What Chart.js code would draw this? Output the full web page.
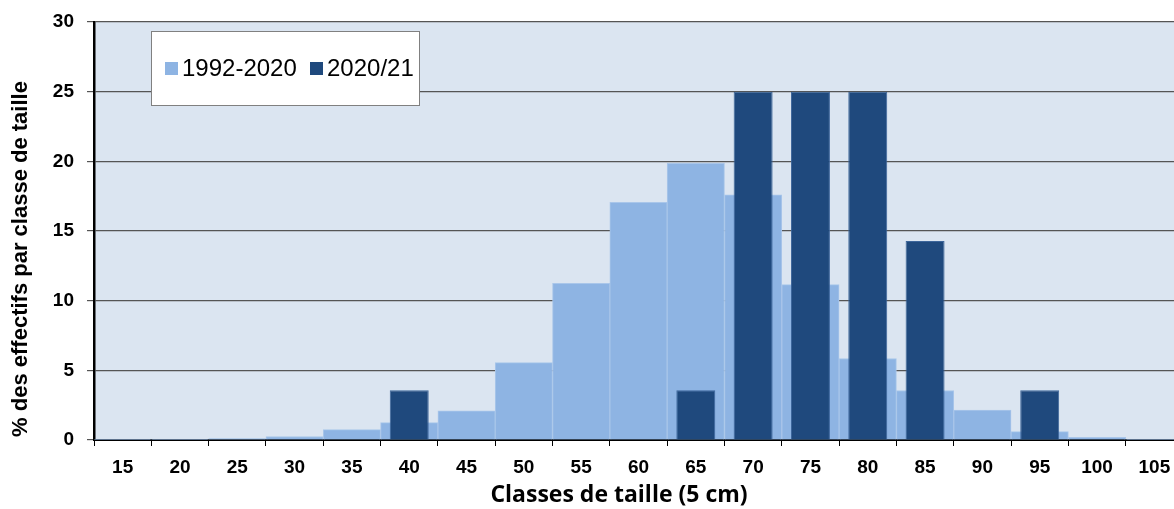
<!DOCTYPE html>
<html>
<head>
<meta charset="utf-8">
<script src="https://cdn.jsdelivr.net/npm/chart.js@4/dist/chart.umd.min.js"></script>
<style>
  html, body { margin: 0; padding: 0; background: #fff; overflow: hidden; }
  #wrap { width: 1183px; height: 509px; position: relative; }
</style>
</head>
<body>
<div id="wrap"><canvas id="tailleChart"></canvas></div>
<script>
// classes de taille (5 cm)
const classes = ['15', '20', '25', '30', '35', '40', '45', '50', '55', '60', '65', '70', '75', '80', '85', '90', '95', '100', '105'];
// % des effectifs, moyenne 1992-2020
const serie1992 = [0.05, 0.05, 0.1, 0.25, 0.75, 1.25, 2.1, 5.55, 11.25, 17.05, 19.85, 17.6, 11.15, 5.85, 3.55, 2.15, 0.6, 0.2, 0.05];
// % des effectifs, saison 2020/21
const serie2020 = [null, null, null, null, null, 3.57, null, null, null, null, 3.57, 25, 25, 25, 14.29, null, 3.57, null, null];
const yTicks = [0, 5, 10, 15, 20, 25, 30];

const colLight = '#8eb4e3';
const colDark = '#1f497d';

const plotBg = {
    id: 'plotBg',
    beforeDraw(chart) {
        const { ctx, chartArea: a } = chart;
        ctx.save();
        ctx.fillStyle = '#dbe5f1';
        ctx.fillRect(a.left, a.top, a.right - a.left, a.bottom - a.top);
        ctx.restore();
    }
};

// legend box inside the plot + axis titles
const boxLegend = {
    id: 'boxLegend',
    afterDraw(chart) {
        const ctx = chart.ctx;
        ctx.save();
        ctx.fillStyle = '#fff';
        ctx.fillRect(151, 31, 268, 74);
        ctx.strokeStyle = '#808080';
        ctx.lineWidth = 1;
        ctx.strokeRect(151.5, 31.5, 268, 74);
        ctx.font = '24px "Liberation Sans", Arial, sans-serif';
        ctx.textBaseline = 'middle';
        ctx.fillStyle = colLight;
        ctx.fillRect(165, 62, 13, 13);
        ctx.fillStyle = colDark;
        ctx.fillRect(310, 62, 13, 13);
        ctx.fillStyle = '#000';
        ctx.fillText('1992-2020', 182, 69);
        ctx.fillText('2020/21', 327, 69);

        ctx.textAlign = 'center';
        ctx.font = 'bold 23px "Open Sans", sans-serif';
        ctx.fillText('Classes de taille (5 cm)', 619, 495);

        ctx.translate(21, 259);
        ctx.rotate(-Math.PI / 2);
        ctx.font = 'bold 22px "Liberation Sans", Arial, sans-serif';
        ctx.fillText('% des effectifs par classe de taille', 0, 0);
        ctx.restore();
    }
};

const ctx = document.getElementById('tailleChart').getContext('2d');
new Chart(ctx, {
    type: 'bar',
    data: {
        labels: classes,
        datasets: [{
            label: '1992-2020',
            data: serie1992,
            backgroundColor: colLight,
            borderColor: '#a9c6ea',
            borderWidth: 1,
            barPercentage: 1,
            categoryPercentage: 1,
            grouped: false,
            order: 2
        }, {
            label: '2020/21',
            data: serie2020,
            backgroundColor: colDark,
            borderColor: '#3c659a',
            borderWidth: 1,
            barPercentage: 0.68,
            categoryPercentage: 1,
            grouped: false,
            order: 1
        }]
    },
    options: {
        responsive: true,
        maintainAspectRatio: false,
        animation: false,
        layout: { padding: { top: 22, right: 0, bottom: 0, left: 0 } },
        plugins: { legend: { display: false }, tooltip: { enabled: false } },
        scales: {
            x: {
                grid: { offset: true, drawOnChartArea: false, drawTicks: true, tickLength: 6, color: '#000', lineWidth: 1 },
                border: { color: '#000', width: 2 },
                ticks: { color: '#000', font: { family: '"Liberation Sans", Arial, sans-serif', size: 19, weight: 'bold' }, padding: 10, maxRotation: 0, autoSkip: false },
                afterFit(s) { s.height = 69; }
            },
            y: {
                min: 0,
                max: 30,
                afterBuildTicks(s) { s.ticks = yTicks.map(v => ({ value: v })); },
                grid: { color: '#555', lineWidth: 1.2, tickLength: 7, drawTicks: true },
                border: { color: '#000', width: 2.5 },
                ticks: { color: '#000', font: { family: '"Liberation Sans", Arial, sans-serif', size: 19, weight: 'bold' }, padding: 13 },
                afterFit(s) { s.width = 94; s.paddingTop = 0; }
            }
        }
    },
    plugins: [plotBg, boxLegend]
});
</script>
</body>
</html>
